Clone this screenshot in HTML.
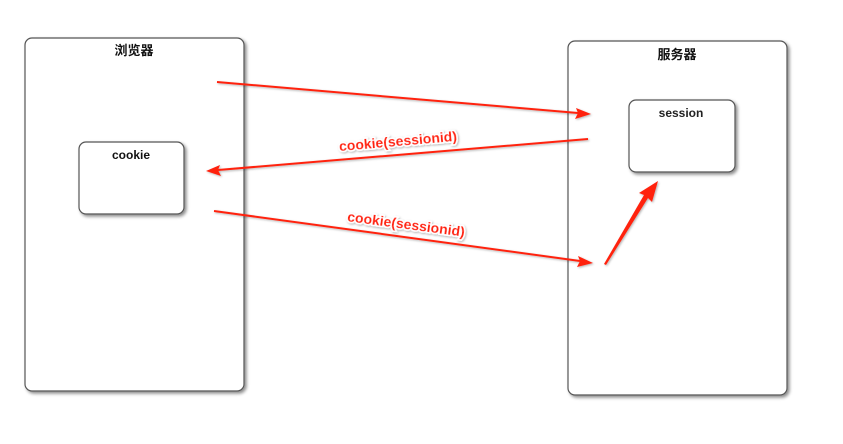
<!DOCTYPE html>
<html><head><meta charset="utf-8"><style>
body{margin:0;background:#fff;}
svg{display:block;font-family:"Liberation Sans","Noto Sans CJK SC",sans-serif;}
</style></head><body>
<svg width="843" height="444" viewBox="0 0 843 444">
<defs>
<filter id="sh" x="-10%" y="-10%" width="130%" height="130%"><feDropShadow dx="2" dy="2" stdDeviation="1.5" flood-color="#000" flood-opacity="0.45"/></filter>
<filter id="ts" x="-10%" y="-30%" width="120%" height="160%"><feDropShadow dx="1" dy="1" stdDeviation="1" flood-color="#000" flood-opacity="0.3"/></filter>
</defs>
<g>
<rect x="25" y="38" width="219" height="353" rx="7" fill="#fff" stroke="#555" stroke-width="1.2" filter="url(#sh)"/>
<text x="134" y="55" text-anchor="middle" font-size="13" font-weight="bold" fill="#111">浏览器</text>
</g>
<g>
<rect x="568" y="41" width="219" height="354" rx="7" fill="#fff" stroke="#555" stroke-width="1.2" filter="url(#sh)"/>
<text x="677" y="59" text-anchor="middle" font-size="13" font-weight="bold" fill="#111">服务器</text>
</g>
<g>
<rect x="79" y="142" width="105" height="72" rx="7" fill="#fff" stroke="#555" stroke-width="1.2" filter="url(#sh)"/>
<text x="131" y="159" text-anchor="middle" font-size="12" font-weight="bold" fill="#111">cookie</text>
</g>
<g>
<rect x="629" y="100" width="106" height="72" rx="7" fill="#fff" stroke="#555" stroke-width="1.2" filter="url(#sh)"/>
<text x="681" y="117" text-anchor="middle" font-size="12" font-weight="bold" fill="#222">session</text>
</g>
<g fill="#f21" stroke="#f21" filter="url(#ts)">
<g>
<line x1="217" y1="82" x2="578" y2="113" stroke-width="2"/>
<polygon points="591,114 576,108 578,113 575,119" stroke="none"/>
</g>
<g>
<line x1="588" y1="139" x2="218" y2="170" stroke-width="2"/>
<polygon points="206,171 220,165 218,170 221,176" stroke="none"/>
</g>
<g>
<line x1="214" y1="211" x2="580" y2="261" stroke-width="2"/>
<polygon points="593,263 578,256 580,261 577,267" stroke="none"/>
</g>
<g>
<polygon points="604,264 644,195 639,193 658,181 652,202 648,198 606,265" stroke="none"/>
</g>
</g>
<text x="398" y="146" text-anchor="middle" font-size="14" font-weight="bold" fill="#f21" stroke="#fff" stroke-width="3" paint-order="stroke" filter="url(#ts)" transform="rotate(-5 398 142)">cookie(sessionid)</text>
<text x="406" y="229" text-anchor="middle" font-size="14" font-weight="bold" fill="#f21" stroke="#fff" stroke-width="3" paint-order="stroke" filter="url(#ts)" transform="rotate(7.5 406 225)">cookie(sessionid)</text>
</svg>
</body></html>
